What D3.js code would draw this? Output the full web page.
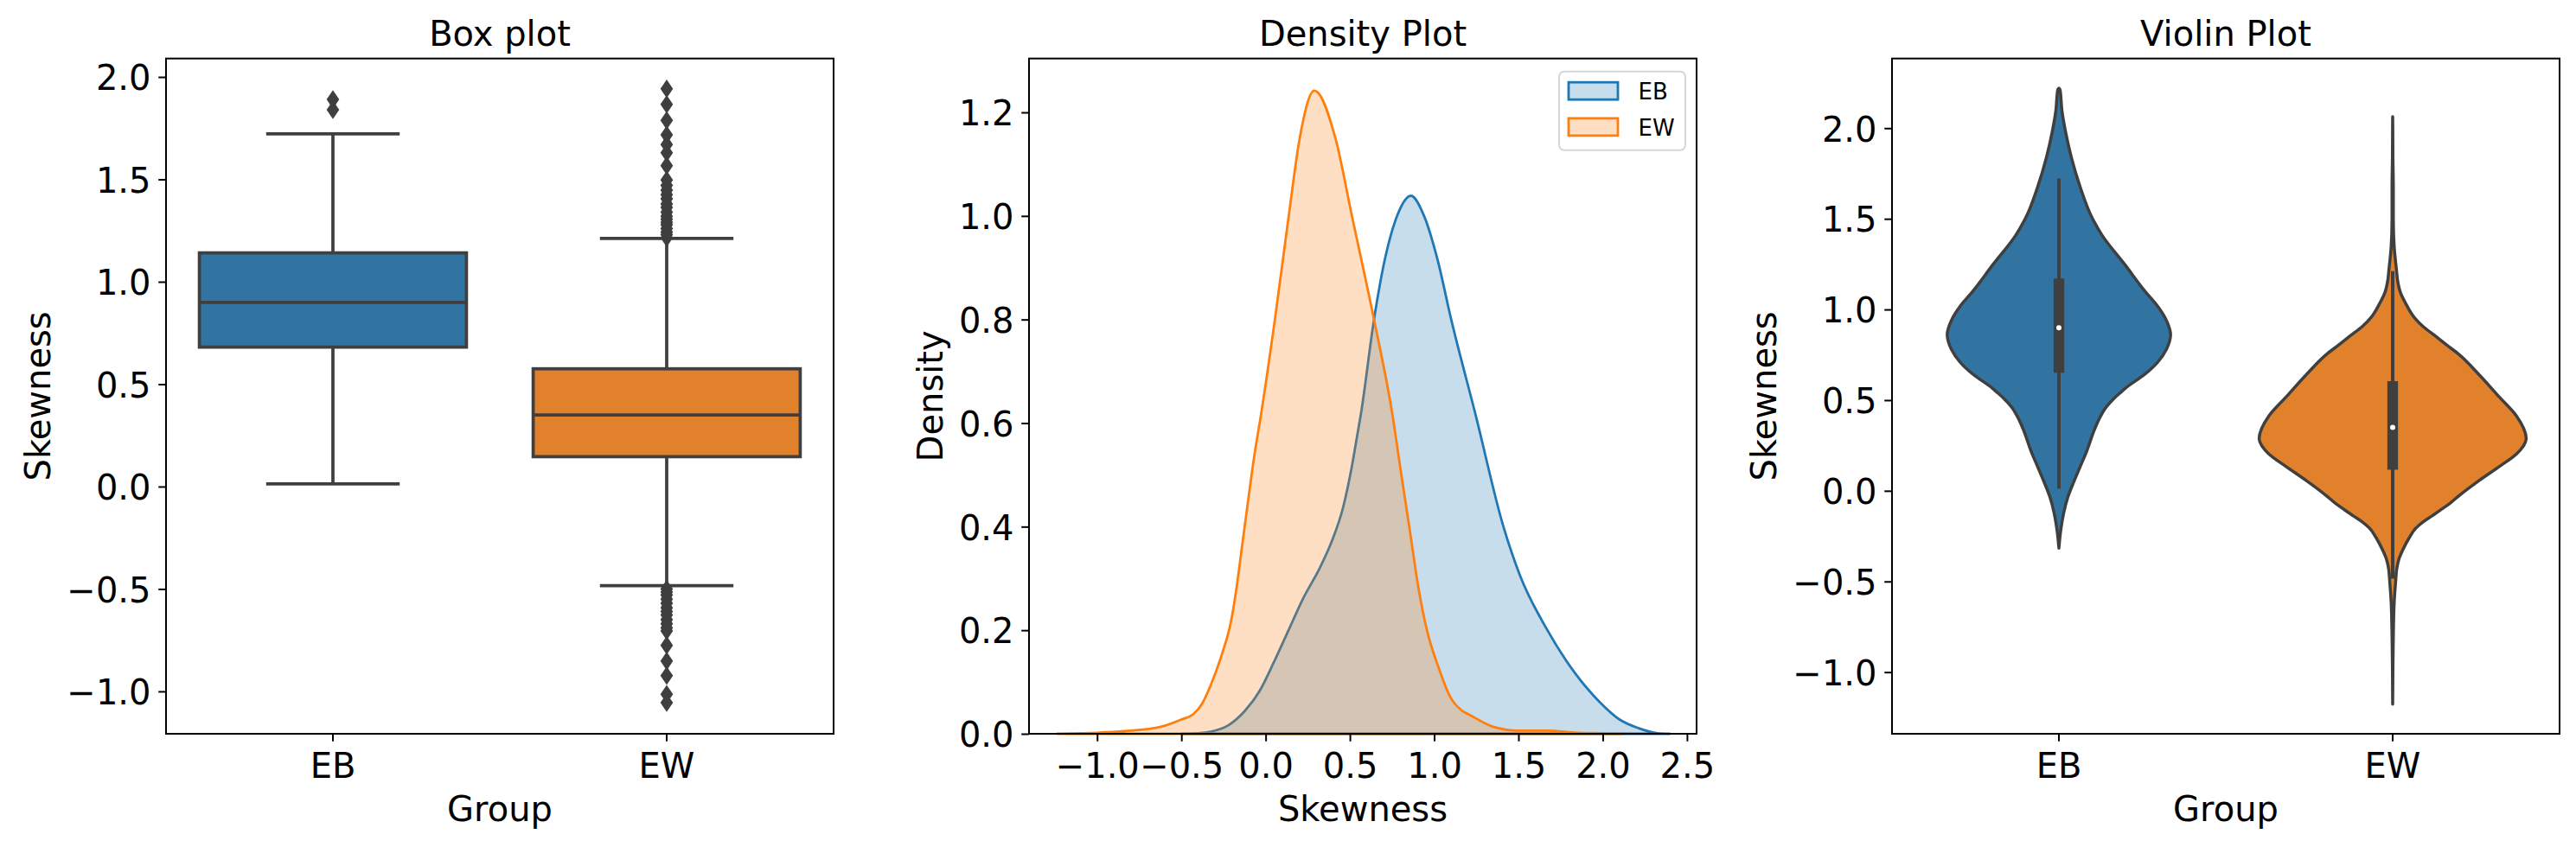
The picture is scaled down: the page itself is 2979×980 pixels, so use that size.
<!DOCTYPE html>
<html>
<head>
<meta charset="utf-8">
<script src="https://cdn.jsdelivr.net/npm/d3@7"></script>
<style>
  body { margin: 0; background: #fff; }
  text { font-family: "DejaVu Sans", sans-serif; }
</style>
</head>
<body>
<svg id="svg" width="2979" height="980"></svg>
<script>
// ---- data ----
const groups = ['EB', 'EW'];

// box plot statistics per group
const q1 = [0.681, 0.146];
const median = [0.899, 0.350];
const q3 = [1.141, 0.575];
const whiskerLow = [0.013, -0.484];
const whiskerHigh = [1.722, 1.211];
const fliersEB = [1.84, 1.89];
const fliersEW = [
  1.215, 1.23, 1.243, 1.26, 1.278, 1.29, 1.305, 1.32, 1.34, 1.363, 1.38, 1.405,
  1.425, 1.447, 1.47, 1.497, 1.567, 1.63, 1.67, 1.717, 1.788, 1.866, 1.942,
  -0.50, -0.515, -0.53, -0.55, -0.57, -0.592, -0.61, -0.627, -0.65, -0.67,
  -0.69, -0.705, -0.775, -0.852, -0.923, -1.014, -1.055
];

// kernel density curves (skewness, density)
const kdeXEB = [-0.50, -0.40, -0.326, -0.223, -0.121, -0.035, 0.050, 0.136, 0.222, 0.324,
  0.393, 0.461, 0.512, 0.547, 0.565, 0.643, 0.708, 0.780, 0.862, 0.940, 1.019, 1.101,
  1.245, 1.411, 1.509, 1.672, 1.836, 1.983, 2.098, 2.211, 2.326, 2.400];
const kdeYEB = [0.000, 0.001, 0.004, 0.016, 0.045, 0.083, 0.139, 0.200, 0.261, 0.322,
  0.372, 0.439, 0.517, 0.583, 0.617, 0.800, 0.917, 1.000, 1.039, 1.000, 0.917, 0.800,
  0.617, 0.400, 0.306, 0.200, 0.117, 0.061, 0.028, 0.011, 0.001, 0.000];
const kdeXEW = [-1.24, -1.10, -1.00, -0.84, -0.617, -0.497, -0.429, -0.377, -0.326, -0.258,
  -0.206, -0.172, -0.138, -0.104, -0.069, -0.027, 0.055, 0.137, 0.202, 0.289, 0.414,
  0.512, 0.643, 0.752, 0.803, 0.855, 0.906, 0.957, 1.026, 1.094, 1.163, 1.214, 1.346,
  1.500, 1.672, 1.850, 2.000, 2.120];
const kdeYEW = [0.000, 0.001, 0.002, 0.005, 0.014, 0.028, 0.038, 0.058, 0.094, 0.155,
  0.216, 0.283, 0.367, 0.450, 0.533, 0.617, 0.800, 1.000, 1.150, 1.242, 1.150,
  1.000, 0.800, 0.617, 0.505, 0.394, 0.283, 0.200, 0.128, 0.072, 0.045, 0.036, 0.014,
  0.006, 0.006, 0.002, 0.001, 0.000];

// violin extents (kde cut at 2 bandwidths)
const violinLow = [-0.316, -1.177];
const violinHigh = [2.22, 2.063];

// ticks and axis limits
const skewTicks = [-1.0, -0.5, 0.0, 0.5, 1.0, 1.5, 2.0];
const densXTicks = [-1.0, -0.5, 0.0, 0.5, 1.0, 1.5, 2.0, 2.5];
const densYTicks = [0.0, 0.2, 0.4, 0.6, 0.8, 1.0, 1.2];
const boxLimits = [-1.207, 2.09];
const densXLimits = [-1.404, 2.557];
const densYLimits = [0, 1.304];
const violinLimits = [-1.34, 2.384];

// ---- layout ----
const svg = d3.select('#svg');
const W = 772, axTop = 67.7, axBottom = 849;
const lefts = [192, 1190, 2188];
const boxFill = ['#3274a1', '#e1812c'];
const kdeColor = ['#1f77b4', '#ff7f0e'];
const gray = '#3f3f3f';
const fmt = d3.format('.1f');

function styleAxis(g) {
  g.attr('font-size', 40).attr('font-family', '"DejaVu Sans", sans-serif');
  g.select('.domain').remove();
  g.selectAll('.tick line').attr('stroke', '#000').attr('stroke-width', 2);
  g.selectAll('.tick text').attr('fill', '#000');
}

// draws axes, labels, title; returns the group for the marks
function panel(i, xAxis, yAxis, title, xlab, ylab) {
  const g = svg.append('g').attr('transform', `translate(${lefts[i]},0)`);
  const marks = g.append('g');
  const gx = g.append('g').attr('transform', `translate(0,${axBottom})`)
    .call(xAxis.tickSize(8.75).tickPadding(8.75));
  styleAxis(gx);
  gx.selectAll('.tick text').attr('dy', '0.84em');
  const gy = g.append('g').call(yAxis.tickSize(8.75).tickPadding(8.75));
  styleAxis(gy);
  gy.selectAll('.tick text').attr('dy', '0.37em');
  g.append('rect').attr('x', 0).attr('y', axTop).attr('width', W).attr('height', axBottom - axTop)
    .attr('fill', 'none').attr('stroke', '#000').attr('stroke-width', 2);
  g.append('text').attr('x', W / 2).attr('y', axTop - 15).attr('text-anchor', 'middle')
    .attr('font-size', 40).text(title);
  g.append('text').attr('x', W / 2).attr('y', axBottom + 101).attr('text-anchor', 'middle')
    .attr('font-size', 40).text(xlab);
  const bb = gy.node().getBBox();
  g.append('text').attr('transform', `translate(${bb.x - 19},${(axTop + axBottom) / 2}) rotate(-90)`)
    .attr('text-anchor', 'middle').attr('font-size', 40).text(ylab);
  return marks;
}

// ---- 1) box plot ----
const xBox = d3.scaleBand().domain(groups).range([0, W]);
const yBox = d3.scaleLinear().domain(boxLimits).range([axBottom, axTop]);
const m1 = panel(0,
  d3.axisBottom(xBox),
  d3.axisLeft(yBox).tickValues(skewTicks).tickFormat(fmt),
  'Box plot', 'Group', 'Skewness');

const diamond = (cx, cy) => `M${cx},${cy - 10.8}L${cx + 7.3},${cy}L${cx},${cy + 10.8}L${cx - 7.3},${cy}Z`;
groups.forEach((gname, i) => {
  const cx = xBox(gname) + xBox.bandwidth() / 2;
  const bw = xBox.bandwidth() * 0.8;
  m1.append('rect').attr('x', cx - bw / 2).attr('y', yBox(q3[i]))
    .attr('width', bw).attr('height', yBox(q1[i]) - yBox(q3[i]))
    .attr('fill', boxFill[i]).attr('stroke', gray).attr('stroke-width', 3.75);
  [[q3[i], whiskerHigh[i]], [q1[i], whiskerLow[i]]].forEach(([a, b]) => {
    m1.append('line').attr('x1', cx).attr('x2', cx).attr('y1', yBox(a)).attr('y2', yBox(b))
      .attr('stroke', gray).attr('stroke-width', 3.75);
    m1.append('line').attr('x1', cx - bw / 4).attr('x2', cx + bw / 4)
      .attr('y1', yBox(b)).attr('y2', yBox(b)).attr('stroke', gray).attr('stroke-width', 3.75);
  });
  m1.append('line').attr('x1', cx - bw / 2).attr('x2', cx + bw / 2)
    .attr('y1', yBox(median[i])).attr('y2', yBox(median[i]))
    .attr('stroke', gray).attr('stroke-width', 3.75);
  const fl = i === 0 ? fliersEB : fliersEW;
  m1.selectAll(null).data(fl).join('path')
    .attr('d', d => diamond(cx, yBox(d))).attr('fill', gray);
});

// ---- 2) density plot ----
const xDen = d3.scaleLinear().domain(densXLimits).range([0, W]);
const yDen = d3.scaleLinear().domain(densYLimits).range([axBottom, axTop]);
const m2 = panel(1,
  d3.axisBottom(xDen).tickValues(densXTicks).tickFormat(fmt),
  d3.axisLeft(yDen).tickValues(densYTicks).tickFormat(fmt),
  'Density Plot', 'Skewness', 'Density');

const kdes = [d3.zip(kdeXEB, kdeYEB), d3.zip(kdeXEW, kdeYEW)];
const area = d3.area().x(d => xDen(d[0])).y0(yDen(0)).y1(d => yDen(d[1]))
  .curve(d3.curveMonotoneX);
kdes.forEach((pts, i) => {
  m2.append('path').attr('d', area(pts))
    .attr('fill', kdeColor[i]).attr('fill-opacity', 0.25)
    .attr('stroke', kdeColor[i]).attr('stroke-width', 2.8);
});

// legend
const lx = W - 159, ly = axTop + 15;
const leg = m2.append('g').attr('transform', `translate(${lx},${ly})`);
leg.append('rect').attr('width', 146).attr('height', 91).attr('rx', 6)
  .attr('fill', '#fff').attr('stroke', '#d6d6d6').attr('stroke-width', 2);
groups.forEach((gname, i) => {
  leg.append('rect').attr('x', 11).attr('y', 12.5 + i * 41.7).attr('width', 57).attr('height', 20)
    .attr('fill', kdeColor[i]).attr('fill-opacity', 0.25)
    .attr('stroke', kdeColor[i]).attr('stroke-width', 2.8);
  leg.append('text').attr('x', 91.5).attr('y', 32.3 + i * 41.7)
    .attr('font-size', 26).text(gname);
});

// ---- 3) violin plot ----
const xVio = d3.scaleBand().domain(groups).range([0, W]);
const yVio = d3.scaleLinear().domain(violinLimits).range([axBottom, axTop]);
const m3 = panel(2,
  d3.axisBottom(xVio),
  d3.axisLeft(yVio).tickValues(skewTicks).tickFormat(fmt),
  'Violin Plot', 'Group', 'Skewness');

const maxDen = d3.max(kdes, k => d3.max(k, d => d[1]));
const halfW = d3.scaleLinear().domain([0, maxDen]).range([0, xVio.bandwidth() * 0.4]);
groups.forEach((gname, i) => {
  const cx = xVio(gname) + xVio.bandwidth() / 2;
  const prof = [[violinHigh[i], 0]]
    .concat(kdes[i].filter(d => d[0] > violinLow[i] && d[0] < violinHigh[i]).reverse())
    .concat([[violinLow[i], 0]]);
  const vArea = d3.area().y(d => yVio(d[0]))
    .x0(d => cx - halfW(d[1])).x1(d => cx + halfW(d[1]))
    .curve(d3.curveMonotoneY);
  m3.append('path').attr('d', vArea(prof))
    .attr('fill', boxFill[i]).attr('stroke', gray).attr('stroke-width', 3.5)
    .attr('stroke-linejoin', 'round');
  m3.append('line').attr('x1', cx).attr('x2', cx)
    .attr('y1', yVio(whiskerLow[i])).attr('y2', yVio(whiskerHigh[i]))
    .attr('stroke', gray).attr('stroke-width', 4);
  m3.append('line').attr('x1', cx).attr('x2', cx)
    .attr('y1', yVio(q1[i])).attr('y2', yVio(q3[i]))
    .attr('stroke', gray).attr('stroke-width', 12.3).attr('stroke-linecap', 'square');
  m3.append('circle').attr('cx', cx).attr('cy', yVio(median[i])).attr('r', 3)
    .attr('fill', '#fff');
});
</script>
</body>
</html>
